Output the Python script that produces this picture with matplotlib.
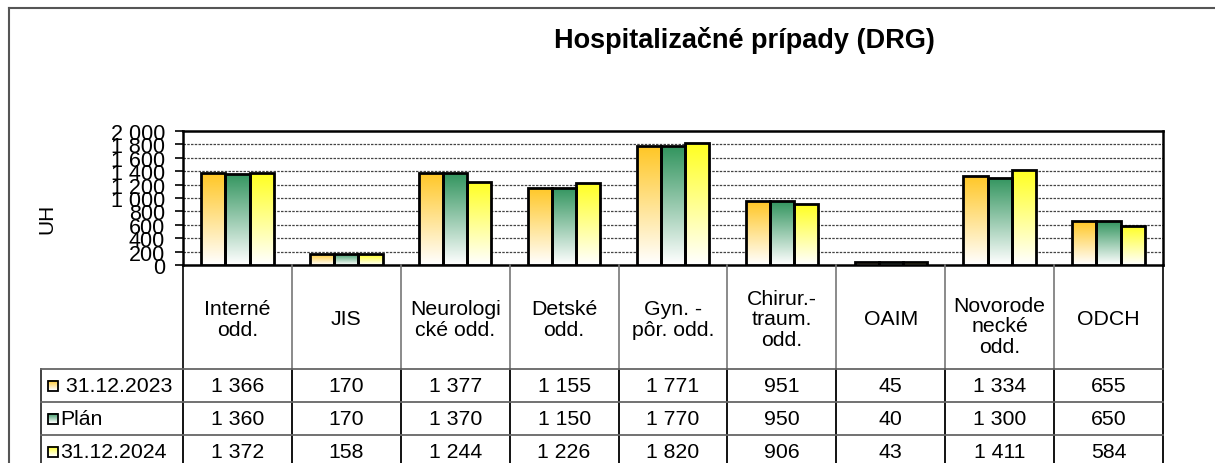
import matplotlib
matplotlib.use("Agg")
import matplotlib.pyplot as plt
from matplotlib.patches import Rectangle
from matplotlib.colors import to_rgb
import numpy as np

plt.rcParams['font.family'] = ['Liberation Sans', 'DejaVu Sans']

title = "Hospitalizačné prípady (DRG)"
categories = ["Interné\nodd.", "JIS", "Neurologi\ncké odd.", "Detské\nodd.", "Gyn. -\npôr. odd.",
              "Chirur.-\ntraum.\nodd.", "OAIM", "Novorode\nnecké\nodd.", "ODCH"]
series_names = [" 31.12.2023", "Plán", "31.12.2024"]
v2023 = [1366, 170, 1377, 1155, 1771, 951, 45, 1334, 655]
plan = [1360, 170, 1370, 1150, 1770, 950, 40, 1300, 650]
v2024 = [1372, 158, 1244, 1226, 1820, 906, 43, 1411, 584]
series = [v2023, plan, v2024]
top_colors = ["#FFC726", "#33955F", "#FFFF22"]
yticks = list(range(0, 2001, 200))


def fmt(v):
    return f"{v:,}".replace(",", " ")


def gradient(color, n=64):
    c = np.array(to_rgb(color))
    w = np.array([1.0, 1.0, 1.0])
    t = np.linspace(0, 1, n)[:, None]
    g = c * (1 - t) + w * t
    return g[:, None, :]


W, H = 1215, 464
fig = plt.figure(figsize=(W / 100, H / 100), dpi=100)

# outer frame
fig.add_artist(plt.Line2D([9 / W, 9 / W], [0, 1 - 9 / H], color="#555555", lw=1.5))
fig.add_artist(plt.Line2D([9 / W, 1], [1 - 9 / H, 1 - 9 / H], color="#555555", lw=1.5))

fig.text(744 / W, 1 - 41 / H, title, ha="center", va="center", fontsize=19.5, fontweight="bold")

# bar chart
px_l, px_r, px_t, px_b = 183, 1163, 132, 266
ax = fig.add_axes([px_l / W, 1 - px_b / H, (px_r - px_l) / W, (px_b - px_t) / H])
n = len(categories)
bw = 0.222
for k, (vals, col) in enumerate(zip(series, top_colors)):
    x = np.arange(n) + 0.5 + (k - 1) * bw
    bars = ax.bar(x, vals, width=bw, facecolor="none", edgecolor="black", linewidth=2.0, zorder=4)
    for b in bars:
        im = ax.imshow(gradient(col), extent=[b.get_x(), b.get_x() + b.get_width(), 0, b.get_height()],
                       aspect="auto", zorder=3, interpolation="bilinear")
        im.set_clip_path(b)
ax.set_xlim(0, n)
ax.set_ylim(0, 2000)
ax.set_aspect("auto")
ax.set_yticks(yticks)
ax.set_yticklabels([fmt(v) for v in yticks], fontsize=15.5)
ax.tick_params(axis="y", direction="out", length=6, width=1.2, pad=7)
ax.set_xticks([])
for y in yticks[1:-1]:
    ax.axhline(y, color="#444444", lw=0.9, ls=(0, (2, 1)), zorder=1)
for s in ax.spines.values():
    s.set_linewidth(1.8)
    s.set_color("black")
fig.text(47 / W, 1 - 219 / H, "UH", rotation=90, ha="center", va="center", fontsize=15)

# data table below the chart
tb_l, row_top, row_h, tb_b = 41, 370, 33, 469
tab = fig.add_axes([tb_l / W, 1 - tb_b / H, (px_r - tb_l) / W, (tb_b - px_b) / H])
tab.axis("off")
colw = (px_r - px_l) / n
edges = [px_l + i * colw for i in range(n + 1)]
row_y = [row_top + i * row_h for i in range(len(series) + 1)]

for i, x in enumerate(edges):
    c = "black" if i in (0, n) else "#777777"
    tab.plot([x, x], [px_b, row_top], color=c, lw=1.2, clip_on=False)
    tab.plot([x, x], [row_top, tb_b], color="black", lw=1.3, clip_on=False)
tab.plot([tb_l, tb_l], [row_top, tb_b], color="#333333", lw=1.3, clip_on=False)
for y in row_y:
    tab.plot([tb_l, px_r], [y, y], color="#666666", lw=1.3, clip_on=False)

for i, lab in enumerate(categories):
    cy = 327 if lab.startswith("Novorode") else 320
    tab.text((edges[i] + edges[i + 1]) / 2, cy, lab, ha="center", va="center",
             fontsize=15.3, linespacing=1.08)

for r, (name, vals, col) in enumerate(zip(series_names, series, top_colors)):
    cy = row_y[r] + row_h / 2
    tab.imshow(gradient(col), extent=[48, 58, cy + 5, cy - 5], aspect="auto",
               interpolation="bilinear", zorder=3)
    tab.add_patch(Rectangle((48, cy - 5), 10, 10, facecolor="none", edgecolor="black", lw=1.3, zorder=4))
    tab.text(60, cy, name, ha="left", va="center", fontsize=15.3)
    for i, v in enumerate(vals):
        tab.text((edges[i] + edges[i + 1]) / 2, cy, fmt(v), ha="center", va="center", fontsize=15.3)

tab.set_xlim(tb_l, px_r)
tab.set_ylim(tb_b, px_b)

fig.savefig("out.png", dpi=100)
